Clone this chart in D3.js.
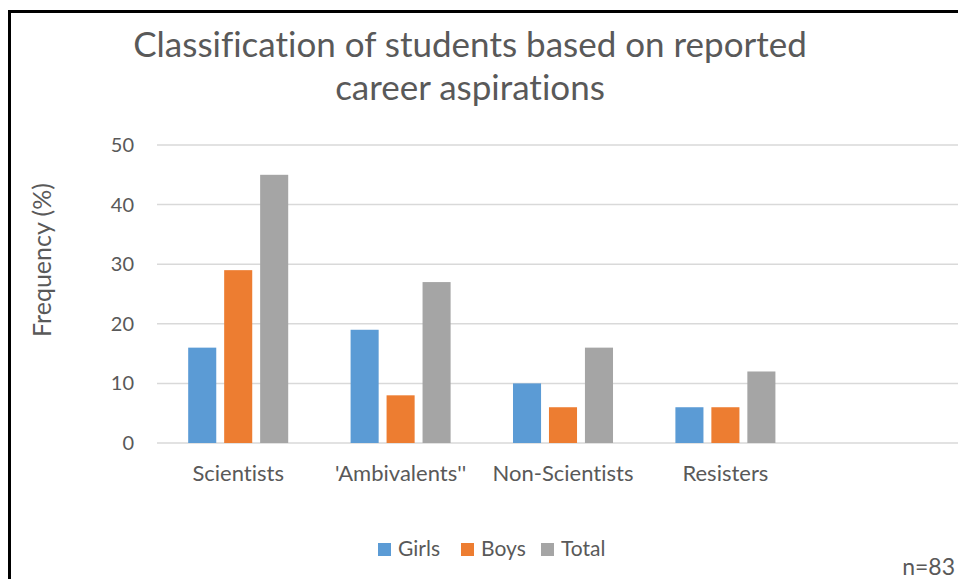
<!DOCTYPE html>
<html>
<head>
<meta charset="utf-8">
<script src="https://cdn.jsdelivr.net/npm/d3@7"></script>
<style>
  body { margin: 0; background: #fff; }
  svg text { font-family: Lato, "Open Sans", sans-serif; fill: #595959; font-variant-ligatures: none; }
</style>
</head>
<body>
<div id="chart"></div>
<script>
// chart data
var categories = ["Scientists", "'Ambivalents''", "Non-Scientists", "Resisters", ""];
var seriesNames = ["Girls", "Boys", "Total"];
var girls = [16, 19, 10, 6, null];
var boys = [29, 8, 6, 6, null];
var total = [45, 27, 16, 12, null];
var yTicks = [0, 10, 20, 30, 40, 50];
var titleLines = ["Classification of students based on reported", "career aspirations"];

var WIDTH = 958,
	HEIGHT = 579,
	MARGINS = {top: 145, bottom: 136, left: 157, right: -11};

var colors = {Girls: "#5B9BD5", Boys: "#ED7D31", Total: "#A5A5A5"};

var rows = categories.map(function(c, i) {
	return {cat: c, values: [
		{name: "Girls", v: girls[i]},
		{name: "Boys", v: boys[i]},
		{name: "Total", v: total[i]}
	]};
});

var svg = d3.select("#chart").append("svg")
	.attr("width", WIDTH)
	.attr("height", HEIGHT);

// frame (the picture is cropped at right and bottom)
svg.append("path")
	.attr("d", "M9.5," + HEIGHT + "V11.5H" + WIDTH)
	.attr("fill", "none")
	.attr("stroke", "#000")
	.attr("stroke-width", 3);

// scales
var x0 = d3.scaleBand()
	.domain(categories)
	.range([MARGINS.left, WIDTH - MARGINS.right]);

var x1 = d3.scaleBand()
	.domain(seriesNames)
	.range([0, x0.bandwidth()])
	.paddingInner(0.22)
	.paddingOuter(0.867);

var yScale = d3.scaleLinear()
	.domain([0, 50])
	.range([HEIGHT - MARGINS.bottom, MARGINS.top]);

// gridlines
svg.append("g").selectAll("line")
	.data(yTicks)
	.enter().append("line")
	.attr("x1", MARGINS.left)
	.attr("x2", WIDTH - MARGINS.right)
	.attr("y1", function(d) { return yScale(d); })
	.attr("y2", function(d) { return yScale(d); })
	.attr("stroke", "#D9D9D9")
	.attr("stroke-width", 1.5);

// y axis labels
var yAxis = svg.append("g")
	.attr("transform", "translate(" + (MARGINS.left - 23) + ",0)")
	.call(d3.axisLeft(yScale).tickValues(yTicks).tickSize(0).tickPadding(0));
yAxis.select(".domain").remove();
yAxis.selectAll("text")
	.style("font-size", "20px")
	.attr("fill", "#595959");

// bars
svg.append("g").selectAll("g")
	.data(rows)
	.enter().append("g")
	.attr("transform", function(d) { return "translate(" + x0(d.cat) + ",0)"; })
	.selectAll("rect")
	.data(function(d) { return d.values.filter(function(s) { return s.v != null; }); })
	.enter().append("rect")
	.attr("x", function(d) { return x1(d.name); })
	.attr("width", x1.bandwidth())
	.attr("y", function(d) { return yScale(d.v); })
	.attr("height", function(d) { return yScale(0) - yScale(d.v); })
	.attr("fill", function(d) { return colors[d.name]; });

// x axis labels
var xAxis = svg.append("g")
	.attr("transform", "translate(0," + (yScale(0) + 22) + ")")
	.call(d3.axisBottom(x0).tickSize(0).tickPadding(0));
xAxis.select(".domain").remove();
xAxis.selectAll("text")
	.style("font-size", "22px")
	.attr("fill", "#595959");

// title
svg.append("g").selectAll("text")
	.data(titleLines)
	.enter().append("text")
	.attr("x", 470)
	.attr("y", function(d, i) { return 57 + i * 43; })
	.attr("text-anchor", "middle")
	.style("font-size", "35px")
	.text(function(d) { return d; });

// y axis title
svg.append("text")
	.attr("transform", "translate(51,260) rotate(-90)")
	.attr("text-anchor", "middle")
	.style("font-size", "25px")
	.text("Frequency (%)");

// legend
var legendX = [378, 461, 541];
var legend = svg.append("g").selectAll("g")
	.data(seriesNames)
	.enter().append("g")
	.attr("transform", function(d, i) { return "translate(" + legendX[i] + ",543)"; });
legend.append("rect")
	.attr("width", 13)
	.attr("height", 13)
	.attr("fill", function(d) { return colors[d]; });
legend.append("text")
	.attr("x", 20)
	.attr("y", 13)
	.style("font-size", "21px")
	.text(function(d) { return d; });

// sample size note
svg.append("text")
	.attr("x", 955)
	.attr("y", 575)
	.attr("text-anchor", "end")
	.style("font-size", "23px")
	.text("n=83");
</script>
</body>
</html>
